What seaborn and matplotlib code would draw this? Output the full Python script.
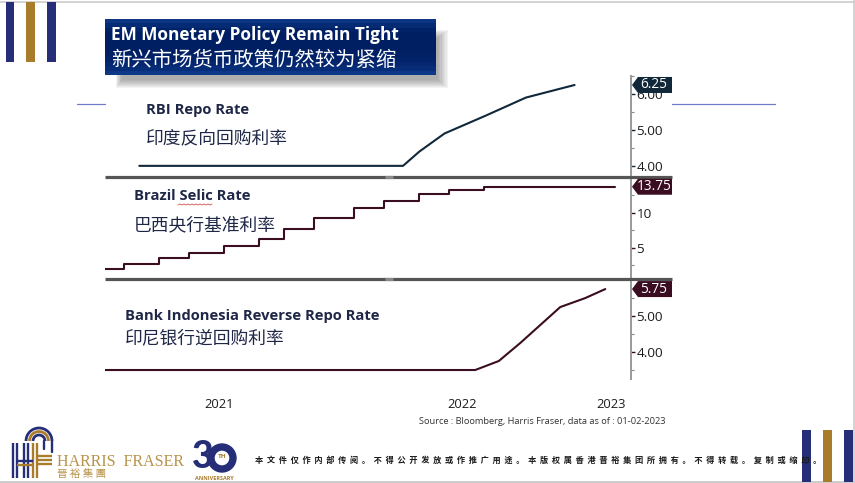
import numpy as np
import pandas as pd
import matplotlib
matplotlib.use("Agg")
import matplotlib.pyplot as plt
import seaborn as sns
from matplotlib.patches import Rectangle, Polygon, Arc, Circle

# ── data ──────────────────────────────────────────────────────────────────────
rbi_dates = ["2021-04-07", "2022-04-11", "2022-05-04", "2022-06-08", "2022-08-05",
             "2022-09-30", "2022-12-07"]
rbi_rate = [4.00, 4.00, 4.40, 4.90, 5.40, 5.90, 6.25]

selic_dates = ["2021-02-18", "2021-03-17", "2021-05-05", "2021-06-16", "2021-08-04",
               "2021-09-22", "2021-10-27", "2021-12-08", "2022-02-02", "2022-03-16",
               "2022-05-04", "2022-06-15", "2022-08-03", "2023-02-01"]
selic_rate = [2.00, 2.75, 3.50, 4.25, 5.25, 6.25, 7.75, 9.25, 10.75, 11.75,
              12.75, 13.25, 13.75, 13.75]

bi_dates = ["2021-02-18", "2022-07-21", "2022-08-23", "2022-09-22", "2022-10-20",
            "2022-11-17", "2022-12-22", "2023-01-19"]
bi_rate = [3.50, 3.50, 3.75, 4.25, 4.75, 5.25, 5.50, 5.75]

year_ticks = ["2021-07-27", "2022-07-02", "2023-01-27"]
year_labels = ["2021", "2022", "2023"]

NAVY = "#262e77"
GOLD = "#a97c2c"
TEXT = "#1f2747"
DARK_BLUE = "#10283a"
MAROON = "#3a0d20"
W, H = 855, 483

sns.set_theme(style="white")
CJK = ["Open Sans", "Noto Sans CJK SC", "DejaVu Sans"]
plt.rcParams["font.family"] = CJK

fig = plt.figure(figsize=(W / 100, H / 100), dpi=100)


def panel(top, bottom):
    return fig.add_axes([105 / W, 1 - bottom / H, (631 - 105) / W, (bottom - top) / H])


# ── the three panels ──────────────────────────────────────────────────────────
panels = [
    (panel(76, 177), rbi_dates, rbi_rate, DARK_BLUE, (3.69, 6.50), [4, 5, 6], [4.5, 5.5, 6.5], "%.2f", "default"),
    (panel(177, 279), selic_dates, selic_rate, MAROON, (0.57, 15.14), [5, 10], [2.5, 7.5, 12.5], "%d", "steps-post"),
    (panel(279, 379), bi_dates, bi_rate, MAROON, (3.25, 6.03), [4, 5], [3.5, 4.5, 5.5], "%.2f", "default"),
]
for ax, dates, vals, col, ylim, major, minor, fmt, style in panels:
    df = pd.DataFrame({"date": pd.to_datetime(dates), "rate": vals})
    sns.lineplot(data=df, x="date", y="rate", ax=ax, color=col, lw=1.5,
                 drawstyle=style, estimator=None, legend=False)
    ax.set_xlim(pd.Timestamp("2021-02-18"), pd.Timestamp("2023-02-24"))
    ax.set_ylim(*ylim)
    ax.set(xlabel="", ylabel="")
    ax.set_yticks(major)
    ax.set_yticks(minor, minor=True)
    ax.set_yticklabels([fmt % v for v in major])
    ax.set_xticks([])
    sns.despine(ax=ax, left=True, top=True, bottom=True, right=False)
    ax.yaxis.set_ticks_position("right")
    ax.tick_params(axis="y", which="major", left=False, labelleft=False, right=True,
                   labelright=True, length=3, width=1, color=col, pad=1,
                   labelsize=9.7, labelcolor="#1c1c1c")
    ax.tick_params(axis="y", which="minor", left=False, right=True, length=2.2, width=0.8, color="#888888")
    ax.spines["right"].set_color("#9a9a9a")
    ax.spines["right"].set_linewidth(1.4)
    ax.patch.set_alpha(0)

bottom_ax = panels[-1][0]
bottom_ax.set_xticks(pd.to_datetime(year_ticks))
bottom_ax.set_xticklabels(year_labels)
bottom_ax.tick_params(axis="x", bottom=False, pad=7.5, labelsize=9.3, labelcolor="#1c1c1c")

# ── slide furniture, drawn in pixel coordinates ───────────────────────────────
deco = fig.add_axes([0, 0, 1, 1], zorder=10)
deco.patch.set_alpha(0)
deco.axis("off")

# title box with soft shadow and bevelled gradient
for i in range(9):
    deco.add_patch(Rectangle((116 + i * 0.7, 30 + i), 332 - 2 * i, 58 - 2 * i,
                             color="#606060", alpha=0.07, lw=0))
shade = np.array([0.55, 0.3, 0.08, 0, 0, 0, 0, 0, 0.05, 0.1, 0.2, 0.35, 0.6])[:, None]
rgb = np.array([0, 31, 99]) * (1 - shade) + np.array([22, 72, 160]) * shade
deco.imshow(rgb[:, None, :].astype(np.uint8), extent=(105, 435, 75, 19), aspect="auto", zorder=2)
deco.text(111, 35, "EM Monetary Policy Remain Tight", color="white", fontsize=12.4,
          fontweight="bold", va="center", zorder=3)
deco.text(111, 60, "新兴市场货币政策仍然较为紧缩", color="white", fontsize=14.7, va="center",
          fontweight="medium", family=["Noto Sans CJK SC", "DejaVu Sans"], zorder=3)

# corner bars
for x, y, w, h, c in [(6, 2, 8, 60, NAVY), (26, 2, 9, 60, GOLD), (47, 2, 9, 60, NAVY),
                      (802, 430, 9, 52, NAVY), (823, 430, 9, 52, GOLD), (844, 430, 9, 52, NAVY)]:
    deco.add_patch(Rectangle((x, y), w, h, color=c, lw=0, zorder=4))

# frame and stray rules
deco.plot([0, W], [1.5, 1.5], color="#cccccc", lw=1.2)
deco.plot([0, W], [481.7, 481.7], color="#c4c4c4", lw=1.2)
deco.plot([853.5, 853.5], [0, H], color="#cccccc", lw=1.2)
deco.plot([77, 105], [104, 104], color="#6f79c9", lw=0.9)
deco.plot([672, 775], [104, 104], color="#6f79c9", lw=0.9)

# panel separators
for y in (177, 279):
    deco.plot([105, 672], [y, y], color="#555555", lw=2.3, solid_capstyle="butt", zorder=3)
    deco.plot([385, 393], [y, y], color="#8a8a8a", lw=2.3, solid_capstyle="butt", zorder=3)

# last value tags
deco.set_xlim(0, W)
deco.set_ylim(H, 0)
for (ax, dates, vals, col, *_), label in zip(panels, ["6.25", "13.75", "5.75"]):
    yc = H - ax.transData.transform((0, vals[-1]))[1]
    deco.add_patch(Polygon([(632, yc), (638, yc - 8), (672, yc - 8), (672, yc + 8), (638, yc + 8)],
                           color=col, lw=0, zorder=5))
    deco.text(654, yc, label, color="white", fontsize=9.8, ha="center", va="center", zorder=6)

# panel captions
for x, y, s, size, weight in [
    (146, 110, "RBI Repo Rate", 10.6, "bold"),
    (146, 138, "印度反向回购利率", 12.8, "normal"),
    (134, 196, "Brazil Selic Rate", 10.6, "bold"),
    (134, 225, "巴西央行基准利率", 12.8, "normal"),
    (125, 316, "Bank Indonesia Reverse Repo Rate", 10.6, "bold"),
    (125, 338, "印尼银行逆回购利率", 12.8, "normal"),
]:
    deco.text(x, y, s, color=TEXT, fontsize=size, fontweight=weight, va="center", zorder=6)
squiggle_x = np.arange(178, 214, 2)
deco.plot(squiggle_x, 204 + (squiggle_x % 4) * 0.5, color="#d05050", lw=0.6, zorder=6)

deco.text(665, 422, "Source : Bloomberg, Harris Fraser, data as of : 01-02-2023",
          color="#333333", fontsize=6.7, ha="right", va="center")
disclaimer = "本文件仅作内部传阅。不得公开发放或作推广用途。本版权属香港晋裕集团所拥有。不得转载。复制或缩印。"
deco.text(255, 460, "  ".join(disclaimer), color="#1a1a1a", fontsize=5.9, fontweight="bold",
          va="center", family=["Noto Sans CJK SC", "DejaVu Sans"], zorder=5)

# logo mark
for x in (12.5, 16.5, 24, 27.5):
    deco.plot([x, x], [443, 478], color=NAVY, lw=1.7, solid_capstyle="butt")
for x in (33, 36.5):
    deco.plot([x, x], [443, 478], color=GOLD, lw=1.7, solid_capstyle="butt")
deco.plot([44, 44], [441, 449], color=NAVY, lw=1.7)
deco.plot([51.5, 51.5], [441, 452], color=NAVY, lw=1.7)
for y, c in [(461, NAVY), (464.5, GOLD)]:
    deco.plot([17, 33], [y, y], color=c, lw=1.7, solid_capstyle="butt")
for y in (456, 460, 464):
    deco.plot([36, 52], [y, y], color=GOLD, lw=1.7, solid_capstyle="butt")
for r, c in [(13, NAVY), (9.5, GOLD), (6, NAVY)]:
    deco.add_patch(Arc((39, 441), 2 * r, 2 * r, theta1=180, theta2=360, color=c, lw=2))

deco.text(57, 462, "HARRIS  FRASER", color="#b8934a", fontsize=11.5, va="center",
          family=["Liberation Serif"])
deco.text(57, 474, " ".join("晉裕集團"), color="#b8934a", fontsize=7.6, va="center",
          family=["Noto Sans CJK TC", "DejaVu Sans"])

# 30th anniversary mark
deco.text(203, 457, "3", color=NAVY, fontsize=27, fontweight="black", ha="center", va="center",
          family=["Lato", "DejaVu Sans"])
deco.add_patch(Circle((222, 458), 11, fill=False, ec=NAVY, lw=5.3))
deco.text(222, 457, "TH", color=GOLD, fontsize=4.6, fontweight="bold", ha="center", va="center")
deco.text(214, 478, "ANNIVERSARY", color=GOLD, fontsize=4, fontweight="bold", ha="center", va="center")

deco.set_xlim(0, W)
deco.set_ylim(H, 0)
fig.savefig("out.png", dpi=100)
